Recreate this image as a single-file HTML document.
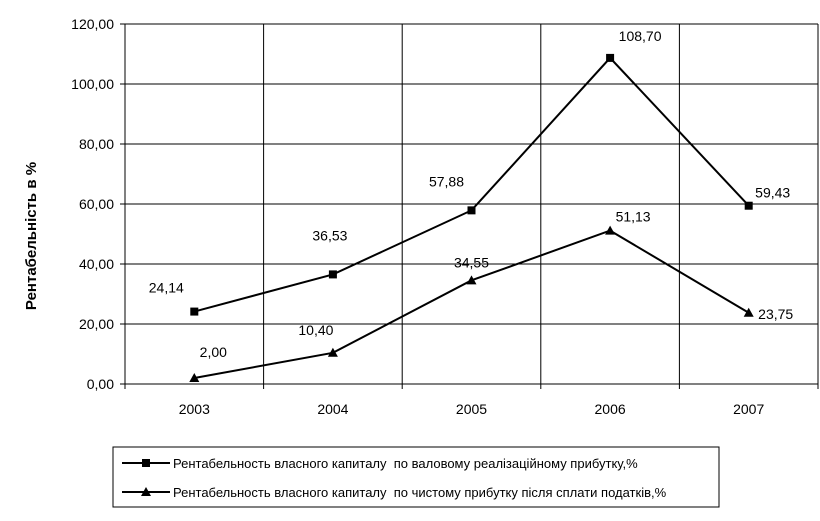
<!DOCTYPE html>
<html><head><meta charset="utf-8"><style>
body{margin:0;background:#fff;width:820px;height:516px;overflow:hidden}
svg{font-family:"Liberation Sans",Arial,sans-serif}
</style></head><body>
<svg width="820" height="516">
<g id="grid"></g><g id="series"></g>
<text transform="translate(36,236) rotate(-90)" text-anchor="middle" font-size="15" font-weight="bold">Рентабельність в %</text>
<g>
<rect x="113" y="447" width="606" height="60" fill="#fff" stroke="#000" stroke-width="1"/>
<line x1="122" y1="463" x2="170" y2="463" stroke="#000" stroke-width="2"/><rect x="142" y="459" width="8" height="8"/>
<text x="173" y="468" font-size="13" style="white-space:pre">Рентабельность власного капиталу  по валовому реалізаційному прибутку,%</text>
<line x1="122" y1="492" x2="170" y2="492" stroke="#000" stroke-width="2"/><polygon points="146,487 151,496 141,496"/>
<text x="173" y="497" font-size="13" style="white-space:pre">Рентабельность власного капиталу  по чистому прибутку після сплати податків,%</text>
</g>
</svg>
<script>
const categories=["2003","2004","2005","2006","2007"];
const gross=[24.14,36.53,57.88,108.70,59.43];
const net=[2.00,10.40,34.55,51.13,23.75];
const yTicks=[0,20,40,60,80,100,120];
const L=125,R=818,T=24,B=384,ymax=120;
const cw=(R-L)/categories.length;
const x=i=>L+cw*(i+0.5), y=v=>B-(v/ymax)*(B-T);
const NS="http://www.w3.org/2000/svg";
const fmt=v=>v.toFixed(2).replace('.',',');
function mk(p,tag,at){const e=document.createElementNS(NS,tag);for(const k in at)e.setAttribute(k,at[k]);p.appendChild(e);return e;}
const g=document.getElementById('grid'), s=document.getElementById('series');
yTicks.forEach(t=>{
 const l=mk(g,'line',{x1:L-5,x2:R,y1:y(t),y2:y(t),stroke:'#000','stroke-width':1});
 
 
 const tx=mk(g,'text',{x:L-11,y:y(t)+5,'text-anchor':'end','font-size':14});
 tx.textContent=fmt(t);
 
 
});
for(let i=0;i<=categories.length;i++){
 const l=mk(g,'line',{x1:L+cw*i,x2:L+cw*i,y1:T,y2:B+5,stroke:'#000','stroke-width':1});
 
 
}
categories.forEach((c,i)=>{
 const tx=mk(g,'text',{x:x(i),y:B+30,'text-anchor':'middle','font-size':14});
 tx.textContent=c;
 
 
});
function draw(data,marker,name,offs){
 const pl=mk(s,'polyline',{points:data.map((v,i)=>x(i)+','+y(v)).join(' '),fill:'none',stroke:'#000','stroke-width':2});
 
 
 data.forEach((v,i)=>{
  let m;
  if(marker==='sq')m=mk(s,'rect',{x:x(i)-4,y:y(v)-4,width:8,height:8});
  else m=mk(s,'polygon',{points:`${x(i)},${y(v)-5} ${x(i)+5},${y(v)+4} ${x(i)-5},${y(v)+4}`});
  
  
  const o=offs[i];
  const t=mk(s,'text',{x:x(i)+o[0],y:y(v)+o[1]+5,'text-anchor':'middle','font-size':14});
  t.textContent=fmt(v);
  
  
 });
}
draw(gross,'sq','gross-profitability',[[-28,-24],[-3,-39],[-25,-29],[30,-22],[24,-13]]);
draw(net,'tri','net-profitability',[[19,-26],[-17,-23],[0,-18],[23,-14],[27,1]]);
</script>
</body></html>
